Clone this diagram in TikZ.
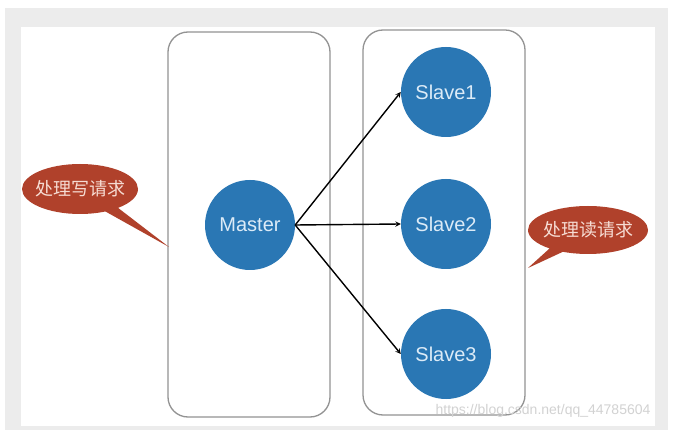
\documentclass[tikz,border=0pt]{standalone}
\usepackage{fontspec}
\setmainfont{Liberation Sans}
\newfontfamily\cjk{Noto Sans CJK SC}
\usetikzlibrary{shapes,arrows,positioning,calc,shapes.callouts}

\definecolor{nodeblue}{HTML}{2A77B4}
\definecolor{nodetext}{HTML}{DCEBF7}
\definecolor{bubblered}{HTML}{B0412B}
\definecolor{bubbletext}{HTML}{F6DCD3}
\definecolor{framegray}{HTML}{ECECEC}

\begin{document}
\begin{tikzpicture}[x=1pt,y=-1pt,
	server/.style={circle, fill=nodeblue, text=nodetext, minimum size=90pt, inner sep=0pt, font=\fontsize{20}{24}\selectfont},
	group/.style={draw=gray!85, line width=1.3pt, rounded corners=20pt},
	bubble/.style={ellipse callout, fill=bubblered, text=bubbletext, inner xsep=-8pt, inner ysep=0pt, font=\cjk\fontsize{18}{22}\selectfont},
	link/.style={-stealth, line width=1.4pt}]
		% frame of the screenshot
		\fill[white] (0,0) rectangle (675,430);
		\fill[framegray] (5,8) rectangle (668,430);
		\fill[white] (21,27) rectangle (655,426);
		% the two groups
		\draw[group] (168,32) rectangle (330,417);
		\draw[group] (363,30) rectangle (525,415);
		% servers
		\node[server] (master) at (250,225) {Master};
		\node[server] (slave1) at (446,92) {Slave1};
		\node[server] (slave2) at (446,224) {Slave2};
		\node[server] (slave3) at (446,354) {Slave3};
		% replication
		\draw[link] (master.east) -- (slave1.west);
		\draw[link] (master.east) -- (slave2.west);
		\draw[link] (master.east) -- (slave3.west);
		% callouts
		\node[bubble, minimum width=116pt, minimum height=50pt, callout absolute pointer={(169,247)}] (writebub) at (80,189) {处理写请求};
		\node[bubble, minimum width=120pt, minimum height=48pt, callout absolute pointer={(528,268)}] (readbub) at (588,230) {处理读请求};
		% watermark
		\node[text=gray!35, font=\fontsize{14}{16}\selectfont] (mark) at (543,411) {https://blog.csdn.net/qq\_44785604};
\end{tikzpicture}
\end{document}
